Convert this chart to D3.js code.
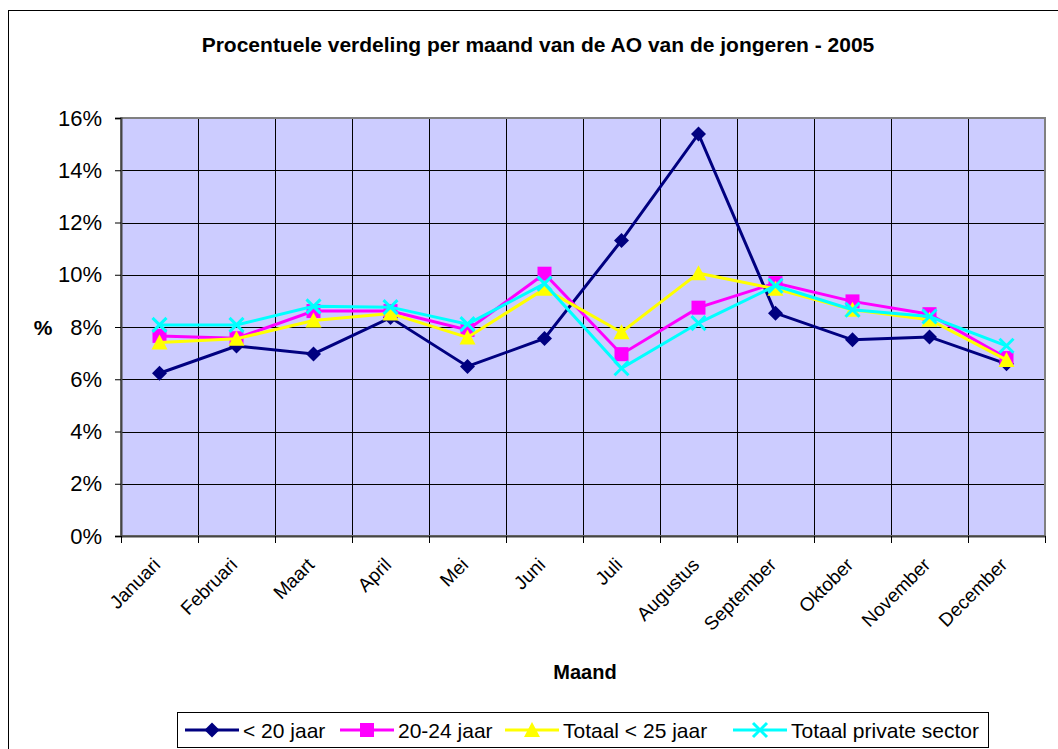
<!DOCTYPE html>
<html>
<head>
<meta charset="utf-8">
<script src="https://cdn.jsdelivr.net/npm/d3@7"></script>
<style>
  body { margin: 0; background: #fff; }
  text { font-family: "Liberation Sans", Arial, sans-serif; fill: #000; }
</style>
</head>
<body>
<div id="chart"></div>
<script>
// data
var months = ["Januari", "Februari", "Maart", "April", "Mei", "Juni", "Juli",
  "Augustus", "September", "Oktober", "November", "December"];
var seriesNames = ["< 20 jaar", "20-24 jaar", "Totaal < 25 jaar", "Totaal private sector"];
var under20 = [6.23, 7.27, 6.97, 8.36, 6.49, 7.56, 11.31, 15.39, 8.53, 7.51, 7.62, 6.59];
var age2024 = [7.66, 7.57, 8.61, 8.61, 7.89, 10.04, 6.96, 8.74, 9.68, 8.98, 8.49, 6.81];
var totalUnder25 = [7.41, 7.55, 8.25, 8.52, 7.60, 9.46, 7.80, 10.06, 9.46, 8.66, 8.28, 6.74];
var privateSector = [8.08, 8.08, 8.79, 8.76, 8.11, 9.66, 6.42, 8.15, 9.58, 8.66, 8.40, 7.28];
var yTicks = [0, 2, 4, 6, 8, 10, 12, 14, 16];

var colors = ["#000080", "#FF00FF", "#FFFF00", "#00FFFF"];
var shapes = ["diamond", "square", "triangle", "cross"];
var allSeries = [under20, age2024, totalUnder25, privateSector];

var svgWidth = 1058, svgHeight = 749;
var margin = { top: 118, right: 13, bottom: 213, left: 121 };
var width = svgWidth - margin.left - margin.right;
var height = svgHeight - margin.top - margin.bottom;

var svg = d3.select("#chart").append("svg")
  .attr("width", svgWidth)
  .attr("height", svgHeight);

// outer chart border (runs off the picture at right and bottom)
svg.append("rect")
  .attr("x", 8.5).attr("y", 10.5)
  .attr("width", 1100).attr("height", 800)
  .attr("fill", "#fff").attr("stroke", "#000").attr("stroke-width", 1);

svg.append("text")
  .attr("x", 538).attr("y", 52)
  .attr("text-anchor", "middle")
  .style("font-weight", "bold").style("font-size", "21px")
  .text("Procentuele verdeling per maand van de AO van de jongeren - 2005");

var g = svg.append("g").attr("transform", `translate(${margin.left}, ${margin.top})`);

var xBand = d3.scaleBand().domain(months).range([0, width]);
var yScale = d3.scaleLinear().domain([0, 16]).range([height, 0]);

// plot area
g.append("rect")
  .attr("width", width).attr("height", height)
  .attr("fill", "#CCCCFF");

// horizontal grid
g.selectAll(".hgrid").data(yTicks.slice(1)).enter().append("line")
  .attr("x1", 0).attr("x2", width)
  .attr("y1", d => Math.round(yScale(d)) + 0.5).attr("y2", d => Math.round(yScale(d)) + 0.5)
  .attr("stroke", "#000").attr("stroke-width", 1);

// vertical grid at category edges
g.selectAll(".vgrid").data(months.slice(1)).enter().append("line")
  .attr("x1", d => Math.round(xBand(d)) + 0.5).attr("x2", d => Math.round(xBand(d)) + 0.5)
  .attr("y1", 0).attr("y2", height)
  .attr("stroke", "#000").attr("stroke-width", 1);

// plot border
g.append("rect")
  .attr("width", width).attr("height", height)
  .attr("fill", "none").attr("stroke", "#808080").attr("stroke-width", 2);

// y axis
var yAxis = g.append("g")
  .call(d3.axisLeft(yScale).tickValues(yTicks).tickSize(6).tickPadding(13)
    .tickFormat(d => d + "%"));
yAxis.select(".domain").attr("stroke", "#444").attr("stroke-width", 2);
yAxis.selectAll(".tick line").attr("stroke", "#000");
yAxis.selectAll("text").style("font-size", "22px").attr("font-family", null);

// x axis, ticks at category edges
var xAxis = g.append("g")
  .attr("transform", `translate(0, ${height})`)
  .call(d3.axisBottom(xBand).tickSize(0).tickFormat(""));
xAxis.select(".domain").attr("stroke", "#444").attr("stroke-width", 2);
xAxis.selectAll(".edge").data(months.concat([""])).enter().append("line")
  .attr("class", "edge")
  .attr("x1", (d, i) => Math.round(i * xBand.step()) + 0.5)
  .attr("x2", (d, i) => Math.round(i * xBand.step()) + 0.5)
  .attr("y1", 0).attr("y2", 7)
  .attr("stroke", "#000");
xAxis.selectAll(".mlabel").data(months).enter().append("text")
  .attr("class", "mlabel")
  .attr("transform", d => `translate(${xBand(d) + xBand.bandwidth() / 2 + 2}, 30) rotate(-45)`)
  .attr("text-anchor", "end")
  .style("font-size", "19px")
  .text(d => d);

// axis titles
svg.append("text")
  .attr("x", 43).attr("y", 335)
  .attr("text-anchor", "middle")
  .style("font-weight", "bold").style("font-size", "21px")
  .text("%");
svg.append("text")
  .attr("x", 585).attr("y", 679)
  .attr("text-anchor", "middle")
  .style("font-weight", "bold").style("font-size", "20px")
  .text("Maand");

function marker(sel, shape, color) {
  if (shape === "diamond") {
    sel.append("path").attr("d", "M0,-7.5L7.5,0L0,7.5L-7.5,0Z").attr("fill", color);
  } else if (shape === "square") {
    sel.append("rect").attr("x", -7).attr("y", -7).attr("width", 14).attr("height", 14).attr("fill", color);
  } else if (shape === "triangle") {
    sel.append("path").attr("d", "M0,-8L8,7L-8,7Z").attr("fill", color);
  } else {
    sel.append("path").attr("d", "M-7,-7L7,7M-7,7L7,-7").attr("stroke", color).attr("stroke-width", 3).attr("fill", "none");
  }
}

var line = d3.line()
  .x((d, i) => xBand(months[i]) + xBand.bandwidth() / 2)
  .y(d => yScale(d));

allSeries.forEach(function(values, s) {
  var sg = g.append("g");
  sg.append("path")
    .datum(values)
    .attr("d", line)
    .attr("fill", "none")
    .attr("stroke", colors[s])
    .attr("stroke-width", 3);
  sg.selectAll(".pt").data(values).enter().append("g")
    .attr("class", "pt")
    .attr("transform", (d, i) => `translate(${xBand(months[i]) + xBand.bandwidth() / 2}, ${yScale(d)})`)
    .each(function() { marker(d3.select(this), shapes[s], colors[s]); });
});

// legend
var legend = svg.append("g");
legend.append("rect")
  .attr("x", 177.5).attr("y", 712.5).attr("width", 811).attr("height", 35)
  .attr("fill", "#fff").attr("stroke", "#000");
var legendX = [185, 340, 505, 733];
seriesNames.forEach(function(name, s) {
  var item = legend.append("g").attr("transform", `translate(${legendX[s]}, 730)`);
  item.append("line").attr("x1", 0).attr("x2", 54).attr("y1", 0).attr("y2", 0)
    .attr("stroke", colors[s]).attr("stroke-width", 3);
  var m = item.append("g").attr("transform", "translate(27, 0)");
  marker(m, shapes[s], colors[s]);
  item.append("text").attr("x", 58).attr("y", 7.5).style("font-size", "21px").text(name);
});
</script>
</body>
</html>
